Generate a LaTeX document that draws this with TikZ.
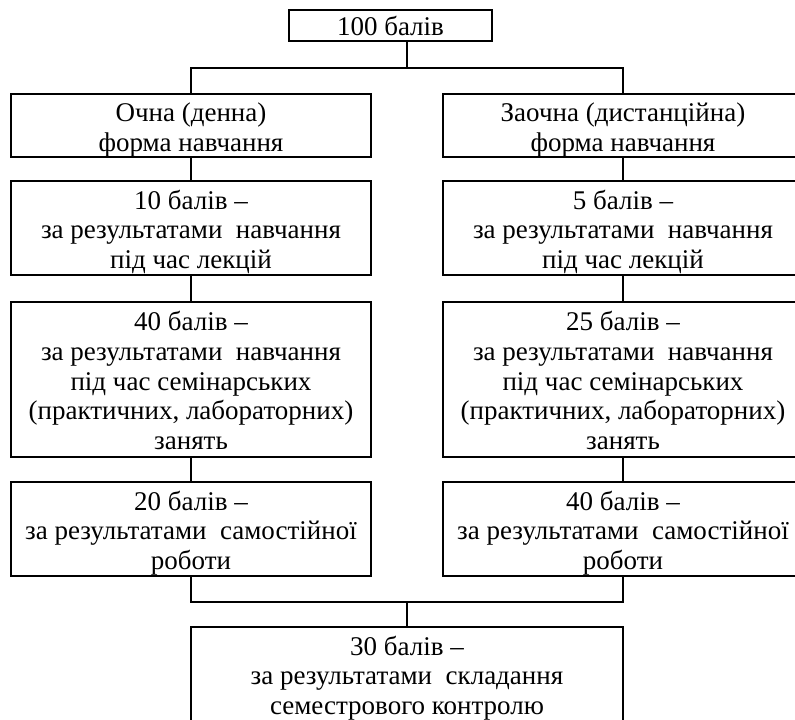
\documentclass[tikz,border=0pt]{standalone}
\usepackage{fontspec}
\setmainfont{Liberation Serif}
\newcommand{\tstr}{\rule{0pt}{27.5pt}}
\newcommand{\bstr}{\rule[-6pt]{0pt}{6pt}}
\begin{document}
\begin{tikzpicture}[x=1pt,y=-1pt,
  box/.style={draw, line width=1.8pt, rectangle, inner sep=0pt, align=center,
    font=\fontsize{27}{29.7}\selectfont},
  wide/.style={box, minimum width=360pt},
  conn/.style={line width=1.8pt}]
\useasboundingbox (0,0) rectangle (795,720);
\clip (0,0) rectangle (795,720);
\node[box, minimum width=203pt, minimum height=31pt] (top) at (390.5,25.5) {100 балів};
\node[wide, minimum height=63pt] (L1) at (191,125.5) {\tstr Очна (денна)\\форма навчання\bstr};
\node[wide, minimum height=63pt] (R1) at (623,125.5) {\tstr Заочна (дистанційна)\\форма навчання\bstr};
\node[wide, minimum height=94pt] (L2) at (191,228) {\tstr 10 балів –\\за результатами~ навчання\\під час лекцій\bstr};
\node[wide, minimum height=94pt] (R2) at (623,228) {\tstr 5 балів –\\за результатами~ навчання\\під час лекцій\bstr};
\node[wide, minimum height=155pt] (L3) at (191,379.5) {\tstr 40 балів –\\за результатами~ навчання\\під час семінарських\\(практичних, лабораторних)\\занять\bstr};
\node[wide, minimum height=155pt] (R3) at (623,379.5) {\tstr 25 балів –\\за результатами~ навчання\\під час семінарських\\(практичних, лабораторних)\\занять\bstr};
\node[wide, minimum height=94pt] (L4) at (191,529) {\tstr 20 балів –\\за результатами~ самостійної\\роботи\bstr};
\node[wide, minimum height=94pt] (R4) at (623,529) {\tstr 40 балів –\\за результатами~ самостійної\\роботи\bstr};
\node[box, minimum width=432pt, minimum height=94pt] (bot) at (407,674) {\tstr 30 балів –\\за результатами~ складання\\семестрового контролю\bstr};
\coordinate (j1) at (407,68);
\coordinate (j2) at (407,602);
\draw[conn] (top.south -| j1) -- (j1);
\draw[conn] (L1.north) |- (j1) -| (R1.north);
\draw[conn] (L1) -- (L2);
\draw[conn] (L2) -- (L3);
\draw[conn] (L3) -- (L4);
\draw[conn] (R1) -- (R2);
\draw[conn] (R2) -- (R3);
\draw[conn] (R3) -- (R4);
\draw[conn] (L4.south) |- (j2) -| (R4.south);
\draw[conn] (j2) -- (bot.north);
\end{tikzpicture}
\end{document}
